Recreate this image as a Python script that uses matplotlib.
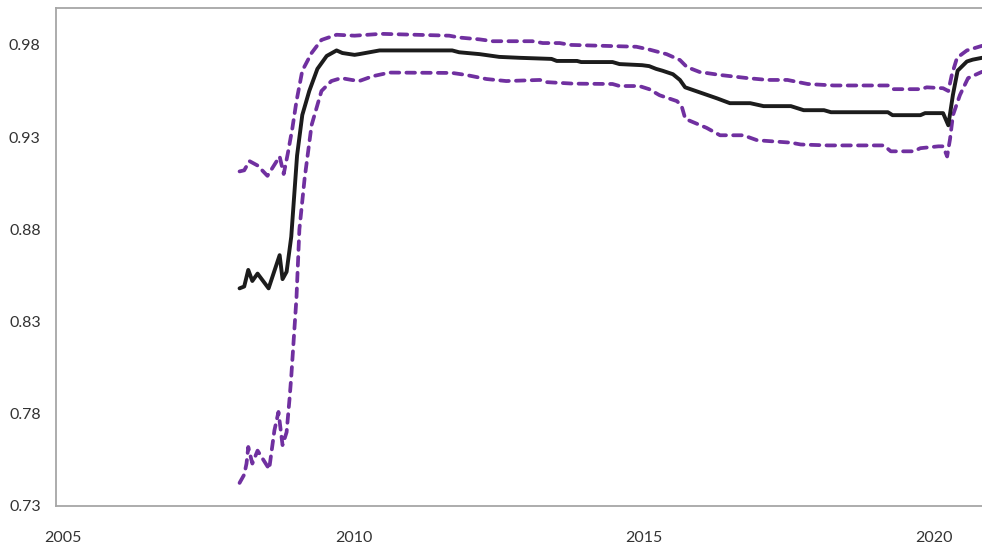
import matplotlib.pyplot as plt

# mean estimate and upper / lower band, dated in fractional years
mean_x = [2008.04, 2008.12, 2008.19, 2008.26, 2008.35, 2008.54, 2008.73, 2008.78, 2008.85,
          2008.93, 2008.98, 2009.03, 2009.12, 2009.24, 2009.38, 2009.54, 2009.71, 2009.81,
          2010.02, 2010.10, 2010.45, 2011.70, 2011.82, 2012.17, 2012.51, 2012.86, 2013.41,
          2013.50, 2013.85, 2013.92, 2014.46, 2014.58, 2014.97, 2015.09, 2015.21, 2015.32,
          2015.50, 2015.62, 2015.71, 2016.26, 2016.48, 2016.83, 2017.06, 2017.53, 2017.75,
          2018.10, 2018.22, 2019.20, 2019.28, 2019.76, 2019.84, 2020.15, 2020.24, 2020.32,
          2020.40, 2020.56, 2020.66, 2020.82]
mean_y = [0.848, 0.849, 0.858, 0.852, 0.856, 0.848, 0.866, 0.853, 0.857,
          0.876, 0.898, 0.920, 0.942, 0.955, 0.967, 0.974, 0.977, 0.9756,
          0.9746, 0.975, 0.977, 0.977, 0.976, 0.975, 0.9735, 0.973, 0.9724,
          0.9713, 0.9713, 0.9707, 0.9707, 0.9696, 0.969, 0.9685, 0.967, 0.966,
          0.9641, 0.961, 0.957, 0.951, 0.9484, 0.9484, 0.9468, 0.9468, 0.9446,
          0.9446, 0.9435, 0.9435, 0.9419, 0.9419, 0.943, 0.943, 0.9364, 0.953,
          0.966, 0.971, 0.972, 0.973]

upper_x = [2008.04, 2008.12, 2008.21, 2008.35, 2008.52, 2008.73, 2008.80, 2008.87, 2008.95,
           2009.02, 2009.12, 2009.28, 2009.45, 2009.71, 2010.02, 2010.48, 2011.65, 2011.82,
           2012.17, 2012.40, 2013.08, 2013.26, 2013.55, 2013.73, 2014.87, 2015.09, 2015.39,
           2015.62, 2015.74, 2015.96, 2016.31, 2016.78, 2017.13, 2017.47, 2017.82, 2018.27,
           2019.20, 2019.29, 2019.76, 2019.87, 2020.15, 2020.24, 2020.30, 2020.39, 2020.56,
           2020.82]
upper_y = [0.9114, 0.912, 0.917, 0.9146, 0.909, 0.9195, 0.910, 0.921, 0.935,
           0.9495, 0.966, 0.9756, 0.9827, 0.9855, 0.985, 0.986, 0.985, 0.984,
           0.983, 0.982, 0.982, 0.981, 0.981, 0.980, 0.979, 0.9775, 0.975,
           0.9718, 0.968, 0.9653, 0.9637, 0.962, 0.961, 0.961, 0.9588, 0.958,
           0.958, 0.956, 0.956, 0.957, 0.9565, 0.955, 0.9637, 0.973, 0.977,
           0.9795]

lower_x = [2008.04, 2008.12, 2008.16, 2008.19, 2008.26, 2008.35, 2008.55, 2008.64, 2008.71,
           2008.78, 2008.85, 2008.90, 2008.93, 2009.02, 2009.07, 2009.16, 2009.28, 2009.45,
           2009.62, 2009.79, 2009.97, 2010.10, 2010.33, 2010.62, 2011.70, 2011.94, 2012.29,
           2012.63, 2013.21, 2013.33, 2013.78, 2014.46, 2014.58, 2014.92, 2015.09, 2015.27,
           2015.57, 2015.65, 2015.71, 2015.78, 2016.08, 2016.31, 2016.71, 2016.95, 2017.53,
           2017.70, 2018.17, 2019.13, 2019.25, 2019.64, 2019.76, 2020.07, 2020.15, 2020.22,
           2020.27, 2020.32, 2020.44, 2020.58, 2020.82]
lower_y = [0.7425, 0.747, 0.753, 0.762, 0.753, 0.760, 0.750, 0.771, 0.781,
           0.763, 0.770, 0.788, 0.800, 0.843, 0.880, 0.9076, 0.9365, 0.955,
           0.9604, 0.962, 0.961, 0.9604, 0.963, 0.965, 0.9648, 0.9637, 0.9615,
           0.9604, 0.961, 0.9598, 0.959, 0.9588, 0.9577, 0.9577, 0.956, 0.9527,
           0.9495, 0.9468, 0.9402, 0.939, 0.935, 0.931, 0.931, 0.9283, 0.927,
           0.926, 0.9255, 0.9255, 0.9223, 0.9223, 0.924, 0.925, 0.925, 0.9195,
           0.929, 0.9419, 0.9528, 0.962, 0.9654]

x_ticks = [2005, 2010, 2015, 2020]
y_ticks = [0.73, 0.78, 0.83, 0.88, 0.93, 0.98]

plt.rcParams['font.family'] = ['Lato', 'DejaVu Sans']

fig = plt.figure(figsize=(9.82, 5.45), dpi=100)
ax = fig.add_axes([0.057, 0.0716, 0.943, 0.9137])

purple = '#7030a0'
band = dict(color=purple, lw=2.7, dashes=(2.3, 1.9), dash_capstyle='round',
            solid_joinstyle='round')
ax.plot(upper_x, upper_y, **band)
ax.plot(lower_x, lower_y, **band)
ax.plot(mean_x, mean_y, color='#1c1c1c', lw=2.8, solid_joinstyle='round',
        solid_capstyle='round')

ax.set_xlim(2004.88, 2020.82)
ax.set_ylim(0.73, 1.0)
ax.set_xticks(x_ticks)
ax.set_yticks(y_ticks)
ax.set_yticklabels([f'{v:.2f}' for v in y_ticks])

for side in ['left', 'bottom', 'top']:
    ax.spines[side].set_color('#a6a6a6')
    ax.spines[side].set_linewidth(1.3)
ax.spines['right'].set_visible(False)

ax.tick_params(axis='both', length=0, labelsize=11.5, labelcolor='#333333')
ax.tick_params(axis='y', pad=11)
ax.tick_params(axis='x', pad=18)

fig.savefig('out.png', dpi=100)
